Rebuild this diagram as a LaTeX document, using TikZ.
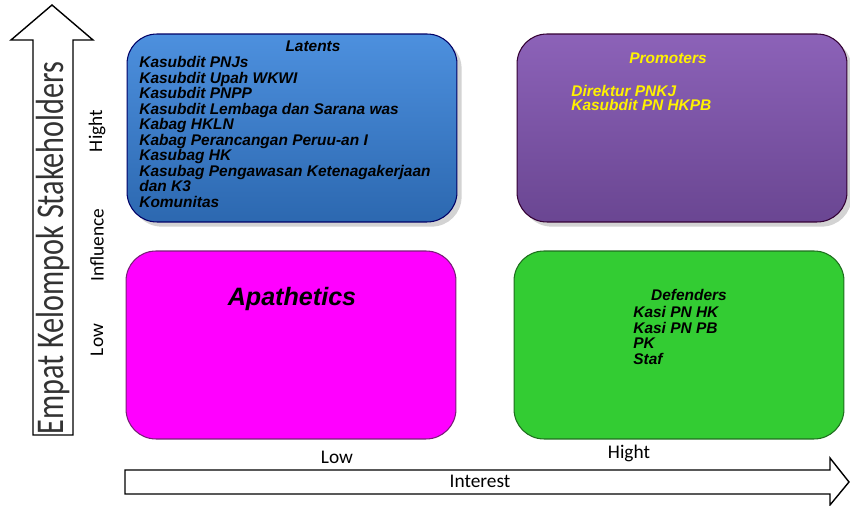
\documentclass[tikz,border=0pt]{standalone}
\usepackage{fontspec}
\setmainfont{Liberation Sans}
\newfontfamily\axisfont{Carlito}
\usetikzlibrary{shadows}

\tikzset{
	quad/.style={draw, rounded corners=17pt, minimum width=6.6cm, minimum height=3.76cm, line width=0.6pt},
	entries/.style={font=\fontsize{8.8}{8.85}\selectfont\bfseries\itshape, align=left, anchor=north west, inner sep=0pt},
	axislabel/.style={font=\axisfont\fontsize{11}{12}\selectfont},
	bigarrow/.style={draw, fill=white, line width=0.8pt}
}

\begin{document}
\begin{tikzpicture}[x=0.02cm, y=-0.02cm]
		\useasboundingbox (0,0) rectangle (850,506);
		% arrows of the two axes
		\path [bigarrow] (33,435) -- (33,40) -- (11,40) -- (52,5) -- (93,40) -- (73,40) -- (73,435) -- cycle;
		\path [bigarrow] (125,470) -- (830,470) -- (830,458) -- (849,482) -- (830,505) -- (830,494) -- (125,494) -- cycle;
		\node[rotate=90, text=gray!40!black, font=\axisfont\fontsize{17.2}{19}\selectfont] (title) at (53,248) {\scalebox{1}[1.3]{Empat Kelompok Stakeholders}};
		\node[axislabel, rotate=90] (hi_y) at (97,131) {Hight};
		\node[axislabel, rotate=90] (infl) at (97,245) {Influence};
		\node[axislabel, rotate=90] (lo_y) at (97,340) {Low};
		\node[axislabel] (lo_x) at (337,457) {Low};
		\node[axislabel] (hi_x) at (629,453) {Hight};
		\node[axislabel] (interest) at (480,481) {Interest};
		% the four groups
		\node[quad, draw=blue!40!black, top color={rgb,255:red,77;green,144;blue,222}, bottom color={rgb,255:red,44;green,104;blue,176}, drop shadow={opacity=0.35}] (latents) at (292,128) {};
		\node[quad, draw=violet!40!black, top color={rgb,255:red,140;green,98;blue,184}, bottom color={rgb,255:red,106;green,70;blue,146}, drop shadow={opacity=0.35}] (promoters) at (682,128) {};
		\node[quad, draw={rgb,255:red,120;green,30;blue,120}, fill={rgb,255:red,255;green,0;blue,255}] (apathetics) at (291,345) {};
		\node[quad, draw={rgb,255:red,30;green,110;blue,30}, fill={rgb,255:red,51;green,204;blue,51}] (defenders) at (679,345) {};
		% texts
		\node[font=\fontsize{8.8}{9}\selectfont\bfseries\itshape] (lat_title) at (313,46) {Latents};
		\node[entries] (lat_list) at (139,56) {Kasubdit PNJs\\Kasubdit Upah WKWI\\Kasubdit PNPP\\Kasubdit Lembaga dan Sarana was\\Kabag HKLN\\Kabag Perancangan Peruu-an I\\Kasubag HK\\Kasubag Pengawasan Ketenagakerjaan\\dan K3\\Komunitas};
		\node[font=\fontsize{8.8}{9}\selectfont\bfseries\itshape, text=yellow] (pro_title) at (668,58) {Promoters};
		\node[entries, text=yellow, font=\fontsize{8.8}{8}\selectfont\bfseries\itshape] (pro_list) at (571,85) {Direktur PNKJ\\Kasubdit PN HKPB};
		\node[font=\fontsize{14.3}{17}\selectfont\bfseries\itshape] (apa_title) at (292,299) {Apathetics};
		\node[font=\fontsize{8.8}{9}\selectfont\bfseries\itshape] (def_title) at (689,295) {Defenders};
		\node[entries] (def_list) at (633,306) {Kasi PN HK\\Kasi PN PB\\PK\\Staf};
	\end{tikzpicture}
\end{document}
